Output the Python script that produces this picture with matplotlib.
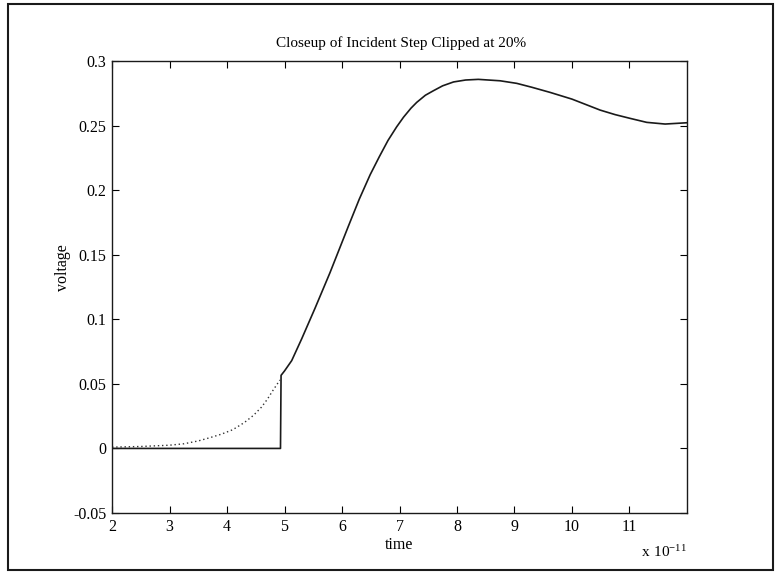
import matplotlib.pyplot as plt
from matplotlib.patches import Rectangle

plt.rcParams['font.family'] = ['Liberation Serif', 'DejaVu Serif']
plt.rcParams['mathtext.fontset'] = 'custom'
plt.rcParams['mathtext.rm'] = 'Liberation Serif'

# clipped step (solid), time in units of 1e-11 s
t_step = [2.0, 4.93, 4.94, 5.0, 5.125, 5.3, 5.53, 5.79, 6.11, 6.3, 6.49,
          6.65, 6.8, 6.95, 7.07, 7.2, 7.3, 7.45, 7.59, 7.75, 7.94, 8.15,
          8.37, 8.75, 9.04, 9.3, 9.62, 10.0, 10.49, 10.75, 11.01, 11.3,
          11.62, 12.0]
v_step = [0.0, 0.0, 0.0566, 0.060, 0.068, 0.085, 0.1085, 0.136, 0.172,
          0.193, 0.212, 0.226, 0.2385, 0.249, 0.2565, 0.2635, 0.268, 0.2735,
          0.277, 0.2808, 0.2838, 0.2853, 0.2858, 0.2847, 0.2827, 0.2797,
          0.2757, 0.2705, 0.262, 0.2585, 0.2556, 0.2525, 0.2512, 0.2522]

# unclipped leading edge (dotted)
t_edge = [2.0, 2.5, 3.0, 3.25, 3.5, 3.7, 3.9, 4.1, 4.3, 4.46, 4.6, 4.7,
          4.8, 4.92]
v_edge = [0.001, 0.0015, 0.0025, 0.0036, 0.0058, 0.0083, 0.011, 0.0145,
          0.02, 0.0256, 0.032, 0.038, 0.045, 0.053]

x_ticks = [2, 3, 4, 5, 6, 7, 8, 9, 10, 11]
y_ticks = [-0.05, 0, 0.05, 0.1, 0.15, 0.2, 0.25, 0.3]
y_labels = ['-0.05', '0', '0.05', '0.1', '0.15', '0.2', '0.25', '0.3']

fig = plt.figure(figsize=(7.78, 5.79), dpi=100)
ax = fig.add_axes([0.144, 0.114, 0.739, 0.7806])

ax.plot(t_step, v_step, color='#1a1a1a', lw=1.2)
ax.plot(t_edge, v_edge, color='#333333', lw=1.0, ls=(0, (1, 2)))

ax.set_xlim(2, 12)
ax.set_ylim(-0.05, 0.3)
ax.set_xticks(x_ticks)
ax.set_xticklabels([str(v) for v in x_ticks])
ax.set_yticks(y_ticks)
ax.set_yticklabels(y_labels)
ax.tick_params(direction='in', top=True, right=True, length=5, width=0.8,
               labelsize=11.5, pad=4)
for s in ax.spines.values():
    s.set_linewidth(1.0)
    s.set_color('#1a1a1a')

fig.text(0.5155, 1 - 43 / 579, 'Closeup of Incident Step Clipped at 20%',
         fontsize=11, ha='center', va='center')
ax.set_xlabel('time', fontsize=11.5)
ax.xaxis.set_label_coords(0.5, -0.071)
ax.xaxis.label.set_va('center')
fig.text(63 / 778, 1 - 268 / 579, 'voltage', fontsize=11.5, rotation=90,
         ha='center', va='center')
fig.text(0.883, 1 - 552 / 579, r'$\mathregular{x\ 10^{-11}}$', fontsize=11,
         ha='right', va='center')

# outer page frame
fig.patches.append(Rectangle((0.0103, 0.0155), 0.9833, 0.9776,
                             transform=fig.transFigure, fill=False,
                             lw=1.5, ec='#1a1a1a'))

fig.savefig('out.png', dpi=100)
